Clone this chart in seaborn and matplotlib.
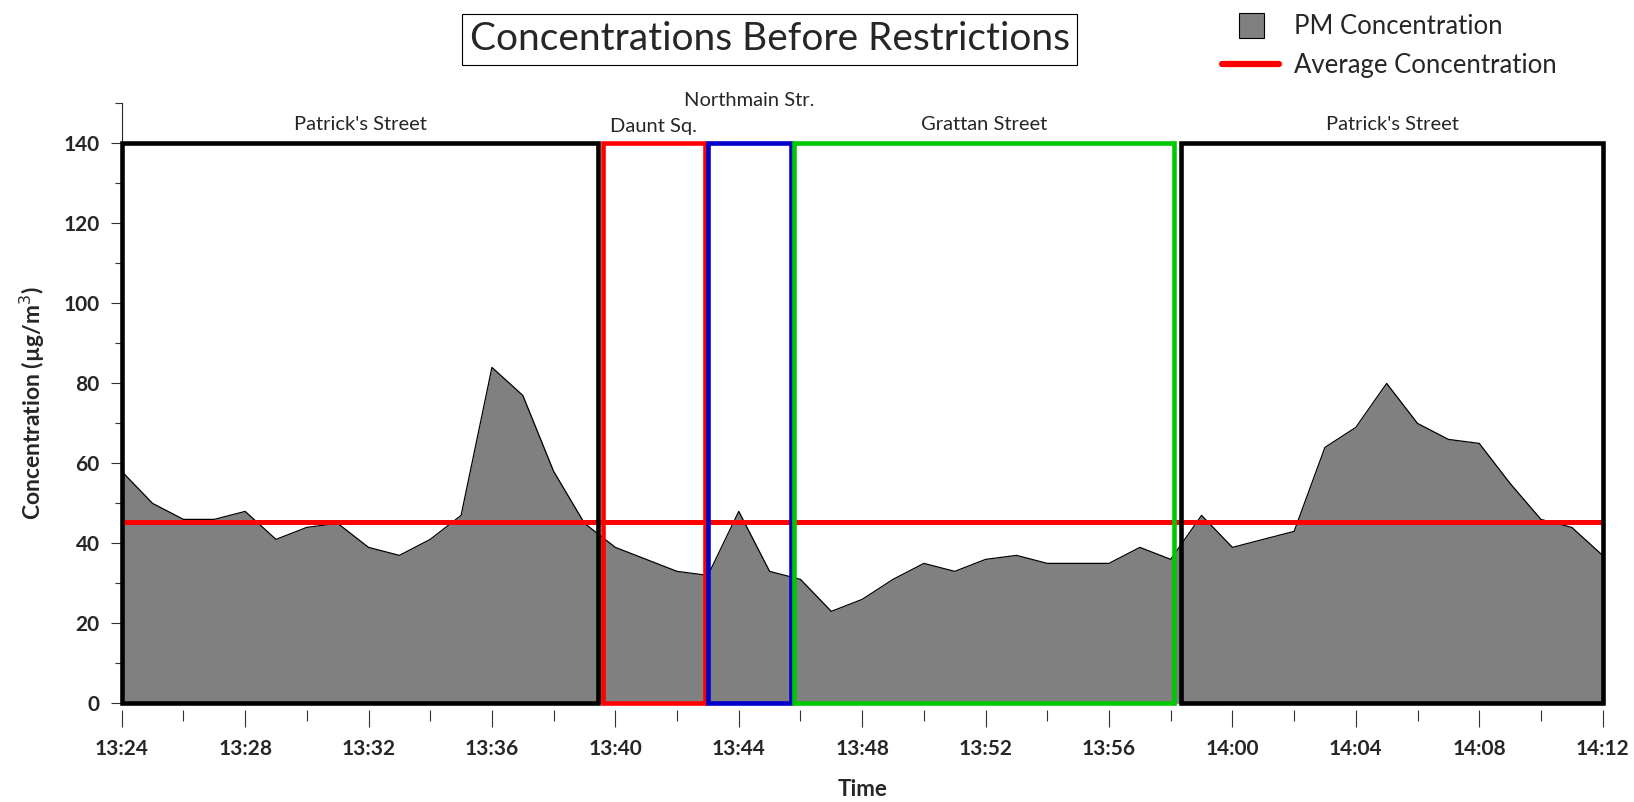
import matplotlib.pyplot as plt
import numpy as np
import seaborn as sns
from matplotlib.lines import Line2D
from matplotlib.patches import Rectangle

# minutes after 13:24, one reading per minute
minutes = np.arange(0, 49)
pm = [58, 50, 46, 46, 48, 41, 44, 45, 39, 37, 41, 47, 84, 77, 58, 45,
      39, 36, 33, 32, 48, 33, 31, 23, 26, 31, 35, 33, 36, 37, 35, 35, 35, 39, 36, 47,
      39, 41, 43, 64, 69, 80, 70, 66, 65, 55, 46, 44, 37]
tick_pos = np.arange(0, 49, 4)
tick_labels = ["13:24", "13:28", "13:32", "13:36", "13:40", "13:44", "13:48",
               "13:52", "13:56", "14:00", "14:04", "14:08", "14:12"]

# street segments (start, end in minutes), label, colour
seg_names = ["Patrick's Street", "Daunt Sq.", "Northmain Str.", "Grattan Street", "Patrick's Street"]
seg_start = [0, 15.6, 19.0, 21.8, 34.35]
seg_end = [15.45, 18.9, 21.7, 34.1, 48]
seg_colors = ["black", "#ff0000", "#0000cc", "#00c800", "black"]
seg_label_y = [142.5, 142, 148.5, 142.5, 142.5]
box_top = 140

avg = np.mean(pm)

sns.set_style("ticks")
plt.rcParams["font.family"] = ["Lato", "DejaVu Sans"]

fig = plt.figure(figsize=(16.34, 8.02), dpi=100)
ax = fig.add_axes((0.0745, 0.123, 0.9063, 0.748))

ax.fill_between(minutes, pm, color="#808080", lw=0, zorder=1)
sns.lineplot(x=minutes, y=pm, color="black", lw=0.9, ax=ax, zorder=2)
ax.axhline(avg, color="#ff0000", lw=3.6, zorder=3)

for s, e, c, name, ly in zip(seg_start, seg_end, seg_colors, seg_names, seg_label_y):
    ax.add_patch(Rectangle((s, 0), e - s, box_top, fill=False, edgecolor=c,
                           lw=3.3, zorder=4, clip_on=False, joinstyle="miter"))
    ax.text((s + e) / 2, ly, name, ha="center", va="bottom", fontsize=14.5)

# spines first: set_position resets the ticks
sns.despine(ax=ax, top=True, right=True)
ax.spines["bottom"].set_position(("outward", 5))
ax.spines["bottom"].set_visible(False)
ax.spines["left"].set_linewidth(0.8)

ax.set_xlim(0, 48)
ax.set_ylim(0, 150)
ax.set_xticks(tick_pos)
ax.set_xticklabels(tick_labels)
ax.set_xticks(np.arange(0, 49, 2), minor=True)
ax.set_yticks(np.arange(0, 141, 20))
ax.set_yticks(np.arange(0, 151, 10), minor=True)
ax.tick_params(which="major", length=8, width=0.8, color="#333333", pad=8, labelsize=15)
ax.tick_params(which="minor", length=5, width=0.8, color="#333333")
ax.tick_params(axis="x", which="major", length=12, pad=9)
ax.tick_params(axis="x", which="minor", length=8)
for lab in ax.get_xticklabels() + ax.get_yticklabels():
    lab.set_fontweight("bold")

ax.set_xlabel("Time", fontsize=16, fontweight="bold", labelpad=14)
ax.set_ylabel("Concentration (µg/m$^3$)", fontsize=16.5, fontweight="bold", labelpad=12)

fig.text(0.471, 0.951, "Concentrations Before Restrictions", ha="center", va="center",
         fontsize=28, bbox=dict(boxstyle="square,pad=0.2", fc="white", ec="black", lw=0.8))

handles = [Line2D([0], [0], ls="none", marker="s", markersize=18,
                  markerfacecolor="#808080", markeredgecolor="black", markeredgewidth=0.8),
           Line2D([0], [0], color="#ff0000", lw=4.5)]
fig.legend(handles, ["PM Concentration", "Average Concentration"], loc="upper left",
           bbox_to_anchor=(0.734, 1.012), frameon=False, fontsize=18.5,
           handlelength=2.2, handletextpad=0.6, labelspacing=0.55)

fig.savefig("out.png", dpi=100)
